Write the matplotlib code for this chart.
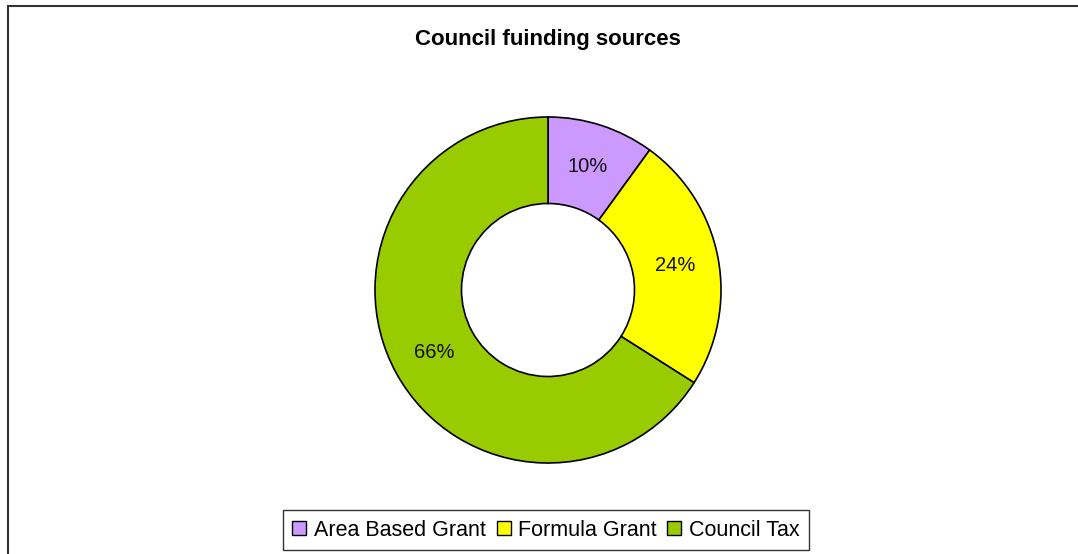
import matplotlib
matplotlib.use('Agg')
from matplotlib import pyplot as plt
from matplotlib.patches import Rectangle

# funding split, per cent
sources = ['Area Based Grant', 'Formula Grant', 'Council Tax']
shares = [10, 24, 66]
colours = ['#CC99FF', '#FFFF00', '#99CC00']

plt.rcParams['font.family'] = ['Liberation Sans', 'DejaVu Sans']

W, H = 1078, 554
fig = plt.figure(figsize=(W / 100, H / 100), dpi=100)

# chart area frame (runs off the right and bottom edge)
fig.patches.append(Rectangle((7.5 / W, -0.1), 2, (H - 6.5) / H + 0.1,
                             transform=fig.transFigure, fill=False,
                             edgecolor='#333333', linewidth=1.5))

cx, cy, r = 548, 290, 173
ax = fig.add_axes([(cx - r) / W, (H - cy - r) / H, 2 * r / W, 2 * r / H])

wedges, texts, autotexts = ax.pie(
    shares, colors=colours, startangle=90, counterclock=False,
    radius=1, autopct='%d%%', pctdistance=0.75,
    wedgeprops=dict(width=0.5, edgecolor='black', linewidth=1.2),
    textprops=dict(fontsize=14.5, color='#111111'))
ax.set_xlim(-1, 1)
ax.set_ylim(-1, 1)

fig.text(cx / W, 1 - 40 / H, 'Council fuinding sources', ha='center', va='center',
         fontsize=16, fontweight='bold')

handles = [Rectangle((0, 0), 1, 1, facecolor=c, edgecolor='black', linewidth=1)
           for c in colours]
leg = fig.legend(handles, sources, loc='center', bbox_to_anchor=(546 / W, 1 - 530 / H),
                 ncol=3, fontsize=15.5, frameon=True, fancybox=False,
                 handlelength=0.65, handleheight=0.65, handletextpad=0.35,
                 columnspacing=0.5, borderpad=0.45)
leg.get_frame().set_edgecolor('black')
leg.get_frame().set_linewidth(1)

fig.savefig('out.png', dpi=100)
